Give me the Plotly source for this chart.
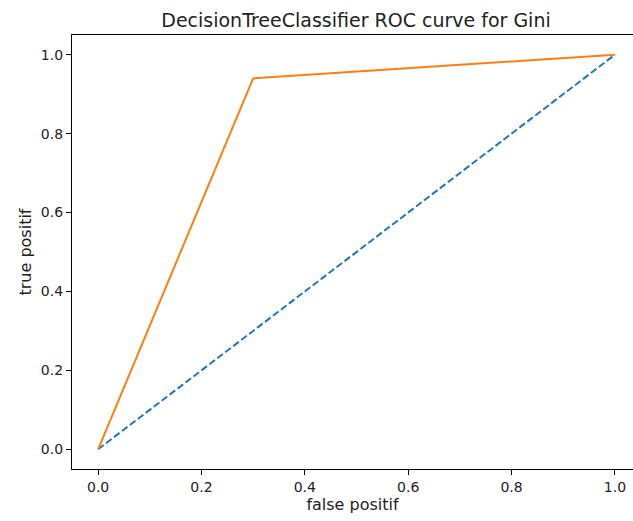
import plotly.graph_objects as go

fpr = [0.0, 0.3, 1.0]
tpr = [0.0, 0.94, 1.0]
diag_x = [0.0, 1.0]
diag_y = [0.0, 1.0]
tick_vals = [0.0, 0.2, 0.4, 0.6, 0.8, 1.0]
tick_text = ["0.0", "0.2", "0.4", "0.6", "0.8", "1.0"]

fig = go.Figure()
fig.add_trace(go.Scatter(x=diag_x, y=diag_y, mode="lines",
                         line=dict(color="#1f77b4", width=2, dash="7px,3px")))
fig.add_trace(go.Scatter(x=fpr, y=tpr, mode="lines",
                         line=dict(color="#ff7f0e", width=2)))

font = "DejaVu Sans"
axis_common = dict(showgrid=False, zeroline=False, showline=True, linecolor="black",
                   linewidth=1.2, ticks="outside", ticklen=5, tickcolor="black",
                   tickwidth=1, tickfont=dict(family=font, size=14, color="#222"),
                   tickvals=tick_vals, ticktext=tick_text)

fig.update_layout(
    width=633, height=521,
    margin=dict(l=72, r=0, t=35, b=52),
    paper_bgcolor="white", plot_bgcolor="white",
    showlegend=False,
    title=dict(text="DecisionTreeClassifier ROC curve for Gini",
               font=dict(family=font, size=19, color="#222"),
               x=(356 - 72) / (633 - 72), xref="paper", xanchor="center",
               y=1 - 20 / 521, yanchor="middle"),
    xaxis=dict(range=[-0.0505, 1.035], mirror=True,
               title=dict(text="false positif", font=dict(family=font, size=16, color="#222"), standoff=4),
               **axis_common),
    yaxis=dict(range=[-0.05, 1.05], mirror=False,
               title=dict(text="true positif", font=dict(family=font, size=16, color="#222"), standoff=5),
               **axis_common),
)

fig.write_html("out.html")
